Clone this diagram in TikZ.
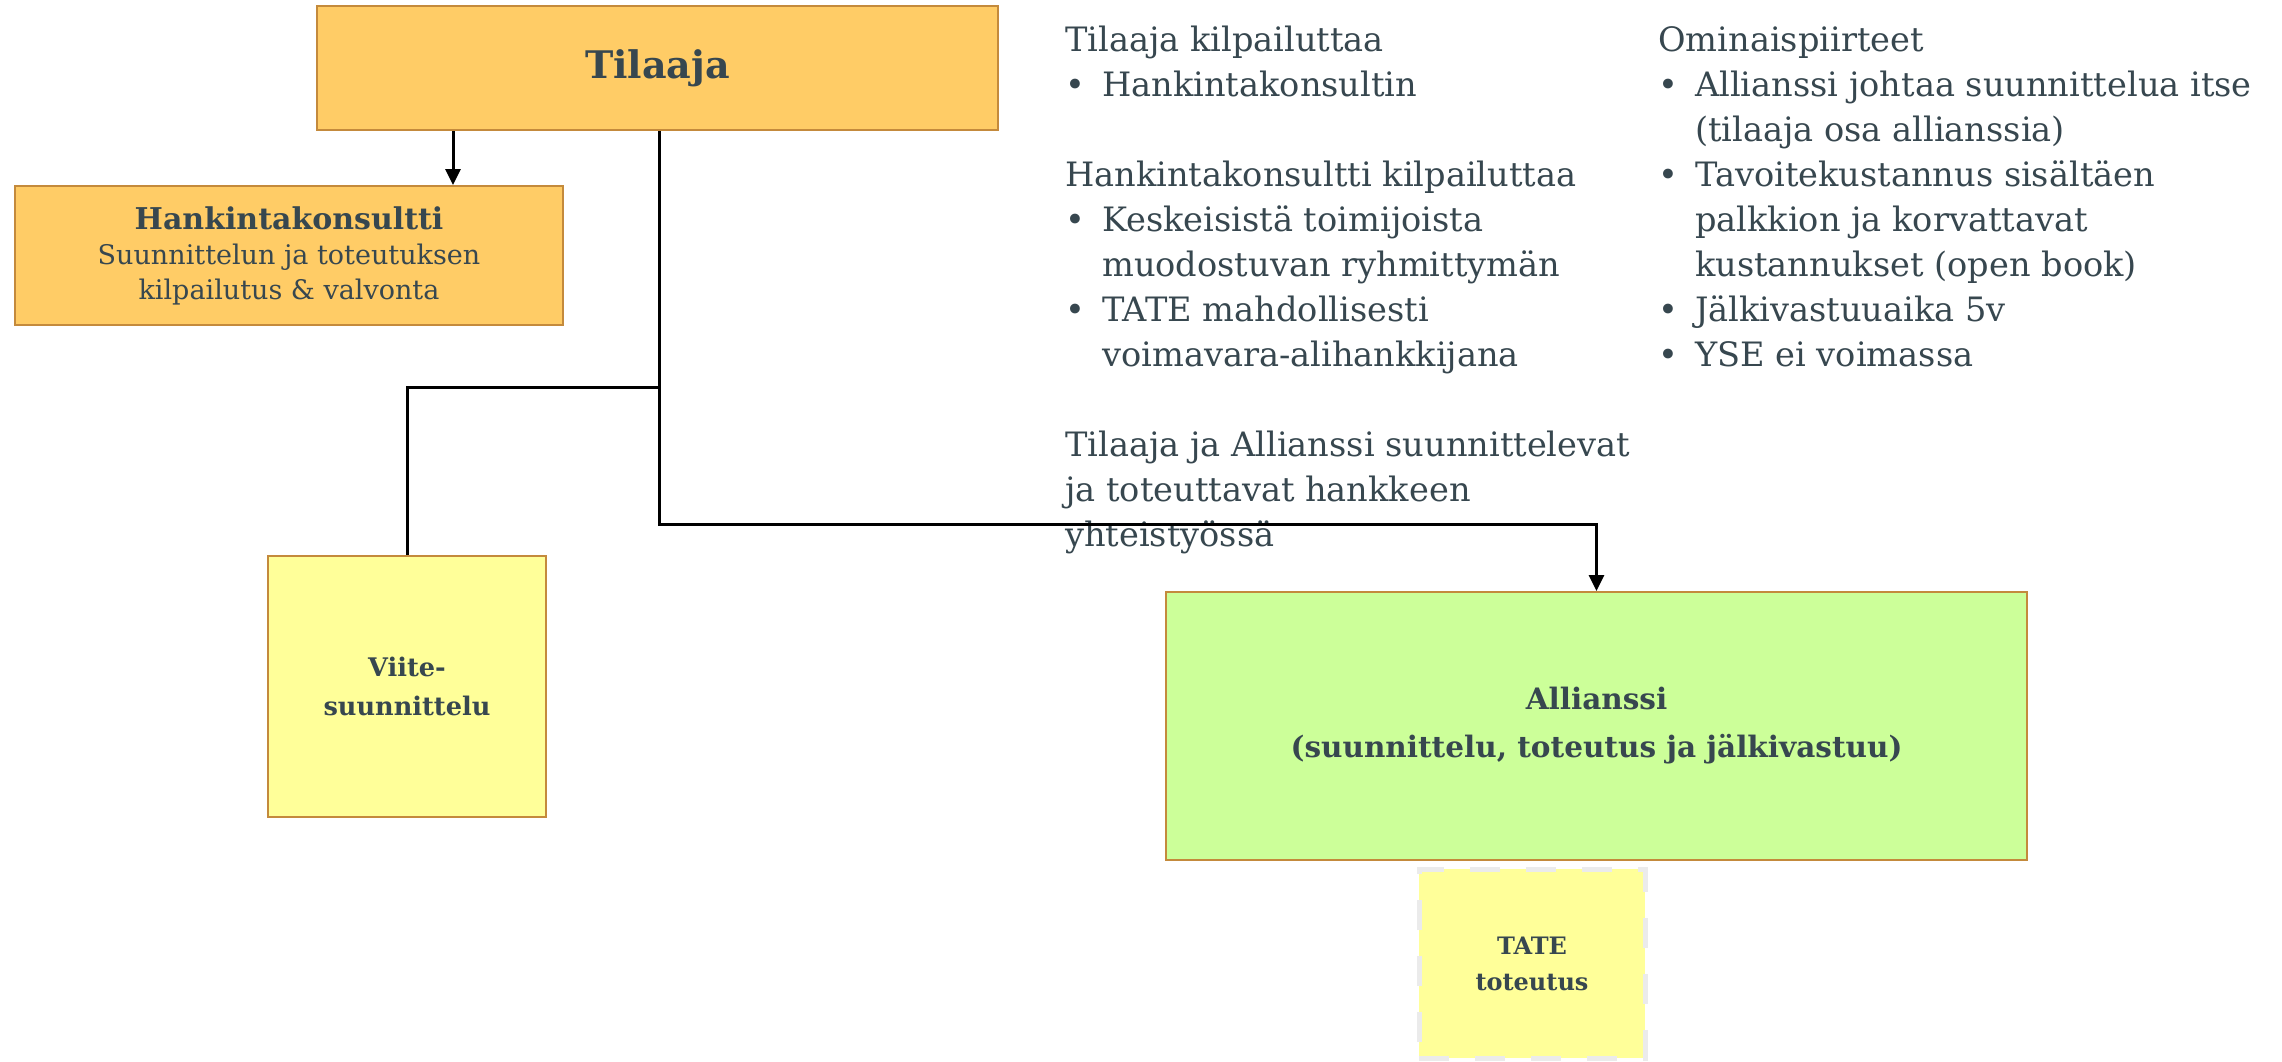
\documentclass[tikz,border=0pt]{standalone}
\usepackage{fontspec}
\setmainfont{DejaVu Serif}
\usepackage{xcolor}
\usepackage{tikz}
\usetikzlibrary{arrows.meta,positioning}

\definecolor{inkgray}{RGB}{55,71,79}
\definecolor{orderfill}{RGB}{255,204,102}
\definecolor{boxedge}{RGB}{196,138,60}
\definecolor{paleyellow}{RGB}{255,255,153}
\definecolor{palegreen}{RGB}{204,255,153}
\definecolor{dashgray}{RGB}{235,235,235}

\newcommand{\blt}{\makebox[37pt][l]{•}}
\newcommand{\indt}{\hspace*{37pt}}

\begin{document}
\begin{tikzpicture}
		[x=1pt,y=-1pt,
		box/.style={draw=boxedge,line width=2pt,inner sep=0pt,align=center,text=inkgray},
		conn/.style={line width=3pt},
		tip/.style={-{Triangle[length=16pt,width=15pt]}},
		notes/.style={anchor=north west,inner sep=0pt,align=left,text=inkgray,
			font=\fontsize{33.6}{45}\selectfont}]
		\useasboundingbox (0,0) rectangle (2282,1061);
		% organisation boxes
		\node[box,fill=orderfill,minimum width=681pt,minimum height=124pt,
			font=\bfseries\fontsize{38}{44}\selectfont] (tilaaja) at (657.5,68) {Tilaaja};
		\node[box,fill=orderfill,minimum width=548pt,minimum height=139pt,
			font=\fontsize{27}{35}\selectfont] (hankinta) at (289,255.5)
			{{\bfseries\fontsize{30}{38}\selectfont Hankintakonsultti}\\
			Suunnittelun ja toteutuksen\\kilpailutus \& valvonta};
		\node[box,fill=paleyellow,minimum width=278pt,minimum height=261pt,
			font=\bfseries\fontsize{25.6}{39}\selectfont] (viite) at (407,686.5)
			{Viite-\\suunnittelu};
		\node[box,fill=palegreen,minimum width=861pt,minimum height=268pt,
			font=\bfseries\fontsize{29.5}{48}\selectfont] (allianssi) at (1596.5,726)
			{Allianssi\\(suunnittelu, toteutus ja jälkivastuu)};
		\node[box,fill=paleyellow,draw=dashgray,line width=5pt,dash pattern=on 30pt off 26pt,
			minimum width=226pt,minimum height=189pt,
			font=\bfseries\fontsize{24}{36}\selectfont] (tate) at (1532,963.5)
			{TATE\\toteutus};
		% notes
		\node[notes] (kilpailutus) at (1065,26)
			{Tilaaja kilpailuttaa\\
			\blt Hankintakonsultin\\
			\mbox{}\\
			Hankintakonsultti kilpailuttaa\\
			\blt Keskeisistä toimijoista\\
			\indt muodostuvan ryhmittymän\\
			\blt TATE mahdollisesti\\
			\indt voimavara-alihankkijana\\
			\mbox{}\\
			Tilaaja ja Allianssi suunnittelevat\\
			ja toteuttavat hankkeen\\
			yhteistyössä};
		\node[notes] (piirteet) at (1658,26)
			{Ominaispiirteet\\
			\blt Allianssi johtaa suunnittelua itse\\
			\indt (tilaaja osa allianssia)\\
			\blt Tavoitekustannus sisältäen\\
			\indt palkkion ja korvattavat\\
			\indt kustannukset (open book)\\
			\blt Jälkivastuuaika 5v\\
			\blt YSE ei voimassa};
		% connectors
		\coordinate (hk) at (453,0);
		\coordinate (split) at (659,387);
		\coordinate (bend) at (659,524);
		\draw[conn,tip] (tilaaja.south -| hk) -- (hankinta.north -| hk);
		\draw[conn] (tilaaja.south -| split) -- (split) -| (viite.north);
		\draw[conn,tip] (split) -- (bend) -| (allianssi.north);
		\end{tikzpicture}
\end{document}
